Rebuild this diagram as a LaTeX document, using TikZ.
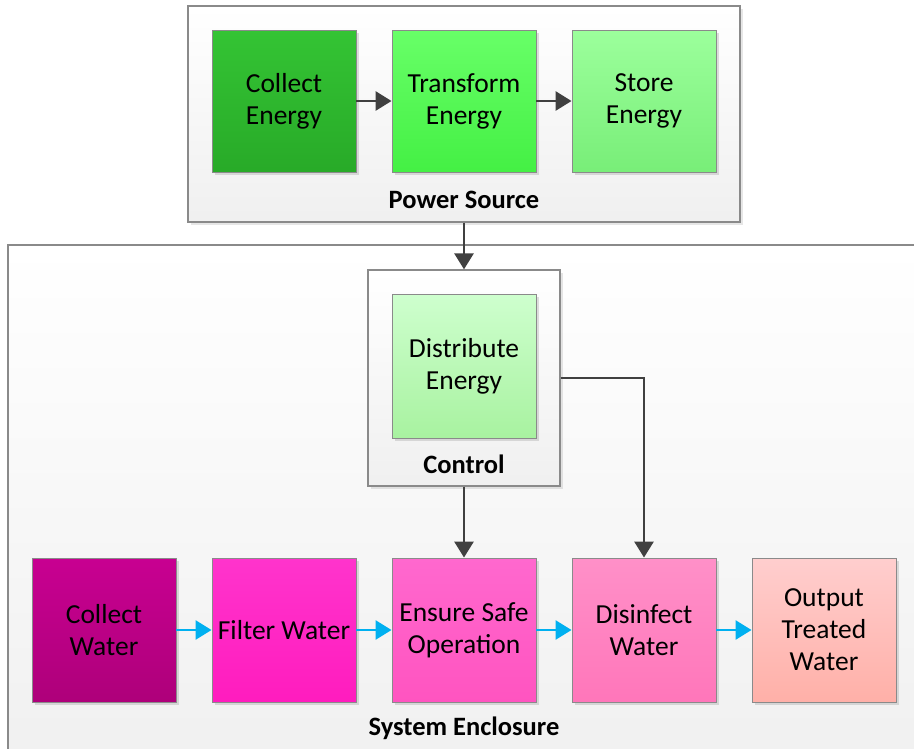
\documentclass[tikz,border=0pt]{standalone}
\usepackage{fontspec}
\setmainfont{Carlito}
\usetikzlibrary{arrows.meta,shadows}

\definecolor{edgegray}{HTML}{8A8A8A}
\definecolor{linkgray}{HTML}{404040}
\definecolor{waterblue}{HTML}{00B0F0}

\begin{document}
\begin{tikzpicture}[x=1pt,y=-1pt,
  stage/.style={draw=edgegray, line width=0.9pt, minimum width=144pt, minimum height=142pt,
    inner sep=0pt, align=flush center, text width=140pt, font=\fontsize{27.5}{32}\selectfont,
    drop shadow={shadow xshift=2.5pt, shadow yshift=-2.5pt, opacity=0.25, fill=black!50}},
  group/.style={draw=edgegray, line width=1.3pt, inner sep=0pt, top color=white, bottom color=black!6,
    drop shadow={shadow xshift=2.5pt, shadow yshift=-2.5pt, opacity=0.2, fill=black!50}},
  grouplabel/.style={font=\bfseries\fontsize{26.5}{30}\selectfont},
  feed/.style={draw=linkgray, line width=2.8pt, -{Triangle[length=16pt,width=19pt]}},
  flow/.style={draw=waterblue, line width=2.6pt, -{Triangle[length=16pt,width=19pt]}}]

\useasboundingbox (0,0) rectangle (914,748);
\clip (0,0) rectangle (914,748);

% containers
\draw[group] (8,245) rectangle (940,780);
\node[grouplabel] (encLabel) at (464,728) {System Enclosure};

\node[group, minimum width=552pt, minimum height=216pt] (powerSrc) at (464,114) {};
\node[grouplabel] (psLabel) at (464,200) {Power Source};

\node[group, minimum width=192pt, minimum height=216pt] (control) at (464,378) {};
\node[grouplabel] (ctlLabel) at (464,464) {Control};

% power source steps
\node[stage, top color={rgb,255:red,52;green,196;blue,52}, bottom color={rgb,255:red,40;green,170;blue,40}]
  (collectE) at (284,101) {Collect\\Energy};
\node[stage, top color={rgb,255:red,104;green,255;blue,104}, bottom color={rgb,255:red,68;green,240;blue,68}]
  (transformE) at (464,101) {Transform\\Energy};
\node[stage, top color={rgb,255:red,156;green,255;blue,156}, bottom color={rgb,255:red,120;green,238;blue,120}]
  (storeE) at (644,101) {Store\\Energy};

% control
\node[stage, minimum height=144pt, top color={rgb,255:red,206;green,255;blue,206}, bottom color={rgb,255:red,168;green,242;blue,160}]
  (distE) at (464,366) {Distribute\\Energy};

% water steps
\node[stage, minimum height=144pt, top color={rgb,255:red,200;green,0;blue,145}, bottom color={rgb,255:red,174;green,0;blue,122}]
  (collectW) at (104,630) {Collect\\Water};
\node[stage, minimum height=144pt, top color={rgb,255:red,255;green,52;blue,204}, bottom color={rgb,255:red,255;green,28;blue,190}]
  (filterW) at (284,630) {Filter Water};
\node[stage, minimum height=144pt, top color={rgb,255:red,255;green,104;blue,206}, bottom color={rgb,255:red,255;green,84;blue,192}]
  (ensureS) at (464,630) {Ensure Safe\\Operation};
\node[stage, minimum height=144pt, top color={rgb,255:red,255;green,144;blue,200}, bottom color={rgb,255:red,255;green,118;blue,186}]
  (disinfW) at (644,630) {Disinfect\\Water};
\node[stage, minimum height=144pt, top color={rgb,255:red,255;green,206;blue,206}, bottom color={rgb,255:red,255;green,176;blue,168}]
  (outputW) at (824,630) {Output\\Treated\\Water};

% energy links
\draw[feed] (collectE) -- (transformE);
\draw[feed] (transformE) -- (storeE);
\draw[feed] (powerSrc) -- (control);
\draw[feed] (control) -- (ensureS);
\draw[feed] (control.east) -| (disinfW);

% water links
\draw[flow] (collectW) -- (filterW);
\draw[flow] (filterW) -- (ensureS);
\draw[flow] (ensureS) -- (disinfW);
\draw[flow] (disinfW) -- (outputW);
\end{tikzpicture}
\end{document}
